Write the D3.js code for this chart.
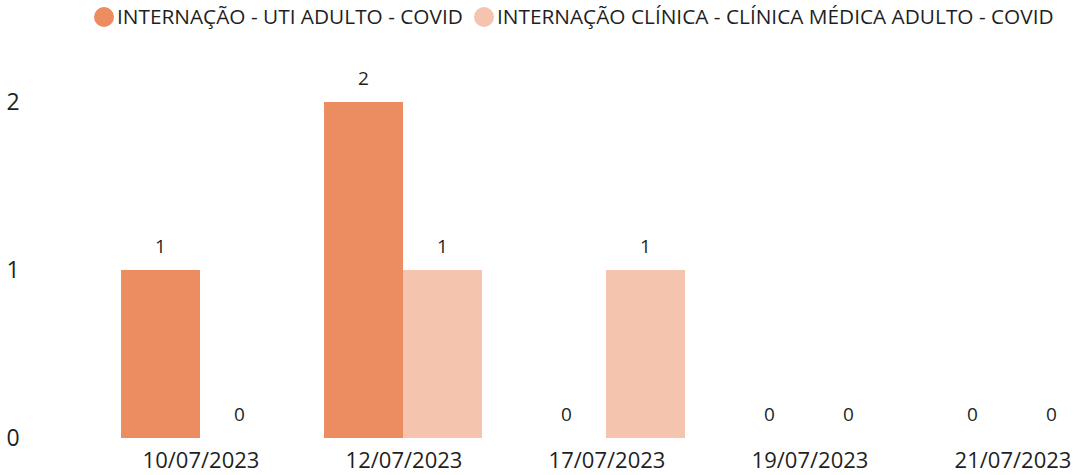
<!DOCTYPE html>
<html><head><meta charset="utf-8">
<script src="https://cdn.jsdelivr.net/npm/d3@7"></script>
<style>
body{margin:0;background:#fff;}
text{font-family:"Segoe UI","Open Sans","Noto Sans",sans-serif;fill:#1f1f1f;}
</style></head>
<body><svg id="c" width="1083" height="475"></svg>
<script>
const categories = ["10/07/2023","12/07/2023","17/07/2023","19/07/2023","21/07/2023"];
const seriesNames = ["INTERNAÇÃO - UTI ADULTO - COVID","INTERNAÇÃO CLÍNICA - CLÍNICA MÉDICA ADULTO - COVID"];
const uti = [1,2,0,0,0];
const clinica = [0,1,1,0,0];
const yTicks = [0,1,2];
const colors = ["#EB8C61","#F4C4AE"];

const svg = d3.select("#c");
const x0 = d3.scaleBand().domain(categories).range([98.5,1113.5]).paddingInner(0.222).paddingOuter(0.111);
const x1 = d3.scaleBand().domain([0,1]).range([0,x0.bandwidth()]);
const y = d3.scaleLinear().domain([0,2]).range([438,102]);

// y axis labels
svg.append("g").selectAll("text").data(yTicks).join("text")
  .attr("x",13).attr("y",d=>y(d)).attr("dy","0.35em").attr("text-anchor","middle")
  .style("font-size","23px").text(d=>d);

const series = [uti, clinica];
series.forEach((vals,si)=>{
  const g = svg.append("g");
  g.selectAll("rect").data(vals).join("rect")
    .attr("x",(d,i)=>x0(categories[i])+x1(si))
    .attr("width",x1.bandwidth())
    .attr("y",d=>y(d)).attr("height",d=>y(0)-y(d))
    .attr("fill",colors[si]);
  g.selectAll("text").data(vals).join("text")
    .attr("x",(d,i)=>x0(categories[i])+x1(si)+x1.bandwidth()/2)
    .attr("y",d=>y(d)-24).attr("dy","0.35em").attr("text-anchor","middle")
    .style("font-size","19px").text(d=>d);
});

// x axis labels
svg.append("g").selectAll("text").data(categories).join("text")
  .attr("x",d=>x0(d)+x0.bandwidth()/2+1).attr("y",468)
  .attr("text-anchor","middle").style("font-size","22px").text(d=>d);

// legend
const legX = [104,484];
const leg = svg.append("g");
seriesNames.forEach((n,i)=>{
  leg.append("circle").attr("cx",legX[i]).attr("cy",17).attr("r",10).attr("fill",colors[i]);
  leg.append("text").attr("x",legX[i]+13).attr("y",17).attr("dy","0.35em")
    .style("font-size","20.8px").text(n);
});
</script></body></html>
